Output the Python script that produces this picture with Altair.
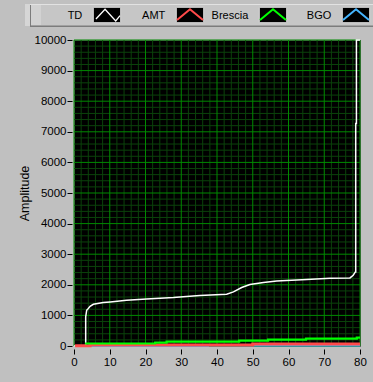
import altair as alt
import pandas as pd

# ---------------- data ----------------
series_names = ["TD", "AMT", "Brescia", "BGO"]
series_colors = ["#ffffff", "#ff4a4a", "#00ff00", "#45b5ff"]

td_x = [0, 3.27, 3.27, 3.55, 4.0, 4.5, 5.4, 8.2, 10.1, 14.7, 20.3, 27.8, 35.2,
        42.7, 44.6, 46.9, 49.2, 53.0, 56.7, 65.1, 71.6, 77.2, 78.1, 78.7,
        78.8, 78.8, 79.0, 79.0, 80]
td_v = [0, 0, 950, 1168, 1223, 1299, 1364, 1420, 1440, 1495, 1538, 1583, 1648,
        1691, 1767, 1910, 2008, 2074, 2127, 2172, 2215, 2225, 2313, 2421,
        2421, 7275, 7275, 10000, 10000]

amt_x = [0.3, 4.5, 50.0, 80]
amt_v = [12, 30, 68, 68]

brescia_x = [3.1, 22.7, 25.9, 46.2, 54.3, 64.9, 79.1, 80]
brescia_v = [82, 113, 146, 178, 210, 243, 276, 276]

bgo_x = [4.5, 37.5, 80]
bgo_v = [0, 15, 15]

x_ticks = list(range(0, 81, 10))
y_ticks = list(range(0, 10001, 1000))

# ---------------- styling ----------------
FONT = "Liberation Sans"
W, H = 286, 306
LEFT, TOP = 74, 40

x_scale = alt.Scale(domain=[0, 80], nice=False, zero=False)
y_scale = alt.Scale(domain=[0, 10000], nice=False, zero=False)

x_axis = alt.Axis(values=x_ticks, title=None, grid=False, domain=False,
                  ticks=True, tickSize=5, tickColor="black", offset=3,
                  labelPadding=2, labelFont=FONT, labelFontSize=11.5,
                  labelColor="black", labelFlush=False, labelOverlap=False,
                  format="d")
y_axis = alt.Axis(values=y_ticks, title="Amplitude", grid=False, domain=False,
                  ticks=True, tickSize=5, tickColor="black", offset=2,
                  labelPadding=1, labelFont=FONT, labelFontSize=11.5,
                  labelColor="black", labelFlush=False, labelOverlap=False,
                  format="d", titleFont=FONT, titleFontSize=12.5,
                  titleFontWeight="normal", titleColor="black",
                  titleAngle=270, titleX=-44, titleY=H / 2,
                  titleBaseline="alphabetic", titleAlign="center")


def X(field):
    return alt.X(f"{field}:Q", scale=x_scale, axis=x_axis)


def Y(field):
    return alt.Y(f"{field}:Q", scale=y_scale, axis=y_axis)


# ---------------- grid ----------------
minor_x = [v for v in range(0, 81, 2) if v % 10 != 0]
minor_y = [v for v in range(0, 10001, 200) if v % 1000 != 0]

grid_minor_x = alt.Chart(pd.DataFrame({"gx": minor_x})).mark_rule(
    color="#0b430b", strokeWidth=1).encode(x=X("gx"))
grid_minor_y = alt.Chart(pd.DataFrame({"gy": minor_y})).mark_rule(
    color="#0b430b", strokeWidth=1).encode(y=Y("gy"))
grid_major_x = alt.Chart(pd.DataFrame({"gx": x_ticks})).mark_rule(
    color="#008a00", strokeWidth=1).encode(x=X("gx"))
grid_major_y = alt.Chart(pd.DataFrame({"gy": y_ticks})).mark_rule(
    color="#008a00", strokeWidth=1).encode(y=Y("gy"))


# ---------------- series ----------------
def line_layer(xs, vs, color, width, interp):
    df = pd.DataFrame({"x": xs, "v": vs, "i": list(range(len(xs)))})
    return alt.Chart(df).mark_line(color=color, strokeWidth=width,
                                   interpolate=interp, clip=False).encode(
        x=X("x"), y=Y("v"), order="i:Q")


td_line = line_layer(td_x, td_v, series_colors[0], 1.5, "linear")
bgo_line = line_layer(bgo_x, bgo_v, series_colors[3], 2, "step-after")
amt_line = line_layer(amt_x, amt_v, series_colors[1], 3, "step-after")
brescia_line = line_layer(brescia_x, brescia_v, series_colors[2], 2.2, "step-after")

# ---------------- legend (LabVIEW style plot legend, top) ----------------
def rel_x(p):
    return p - LEFT


def rel_y(p):
    return p - TOP


def deco_rect(x0, x1, y0, y1, fill):
    return alt.Chart(alt.Data(values=[{}])).mark_rect(fill=fill).encode(
        x=alt.value(rel_x(x0)), x2=alt.value(rel_x(x1)),
        y=alt.value(rel_y(y0)), y2=alt.value(rel_y(y1)))


bar_parts = [
    deco_rect(25, 30, 4, 26, "#d6d6d6"),
    deco_rect(30, 373, 4, 26, "#c6c6c6"),
    deco_rect(31, 41, 5, 25, "#d2d2d2"),
    deco_rect(30, 31, 4, 27, "#7c7c7c"),
    deco_rect(30, 373, 25.5, 27, "#7c7c7c"),
    deco_rect(30, 373, 4, 5, "#e2e2e2"),
]

step = 83
first_box = 93.3
chev_td = "M-0.85,0.31L-0.15,-0.44L0.67,0.46L1,0.05"
chev = "M-1,0.38L0,-0.44L1,0.38"
leg_rows = []
for i, (n, c) in enumerate(zip(series_names, series_colors)):
    bx0 = first_box + step * i
    leg_rows.append({
        "name": n,
        "bx0": rel_x(bx0), "bx1": rel_x(bx0 + 27.4),
        "by0": rel_y(7.3), "by1": rel_y(22.7),
        "cx": rel_x(bx0 + 13.7), "cy": rel_y(15),
        "tx": rel_x(bx0 - 11), "ty": rel_y(15.5),
        "sw": 1.3 if i == 0 else 2.0,
    })
leg = pd.DataFrame(leg_rows)

leg_box = alt.Chart(leg).mark_rect(fill="black", stroke="#dadada",
                                   strokeWidth=1).encode(
    x=alt.X("bx0:Q", scale=None, axis=None), x2="bx1:Q",
    y=alt.Y("by0:Q", scale=None, axis=None), y2="by1:Q")
leg_sym = alt.Chart(leg).mark_point(filled=False, size=676, opacity=1).encode(
    x=alt.X("cx:Q", scale=None, axis=None),
    y=alt.Y("cy:Q", scale=None, axis=None),
    shape=alt.Shape("name:N", scale=alt.Scale(domain=series_names,
                                              range=[chev_td, chev, chev, chev]),
                    legend=None),
    color=alt.Color("name:N", scale=alt.Scale(domain=series_names,
                                              range=series_colors),
                    legend=None),
    strokeWidth=alt.StrokeWidth("sw:Q", scale=None))
leg_text = alt.Chart(leg).mark_text(align="right", baseline="middle",
                                    font=FONT, fontSize=11,
                                    color="black").encode(
    x=alt.X("tx:Q", scale=None, axis=None),
    y=alt.Y("ty:Q", scale=None, axis=None),
    text="name:N")

chart = alt.layer(
    grid_minor_x, grid_minor_y, grid_major_x, grid_major_y,
    td_line, bgo_line, amt_line, brescia_line,
    *bar_parts, leg_box, leg_sym, leg_text,
).properties(
    width=W, height=H,
    autosize=alt.AutoSizeParams(type="none"),
    padding={"left": LEFT, "top": TOP, "right": 373 - LEFT - W,
             "bottom": 382 - TOP - H},
    background="#c0c0c0",
).configure_view(
    fill="black", stroke="#5a5a5a", strokeWidth=1
)

chart.save("out.html", embed_options={"renderer": "svg", "actions": False})
